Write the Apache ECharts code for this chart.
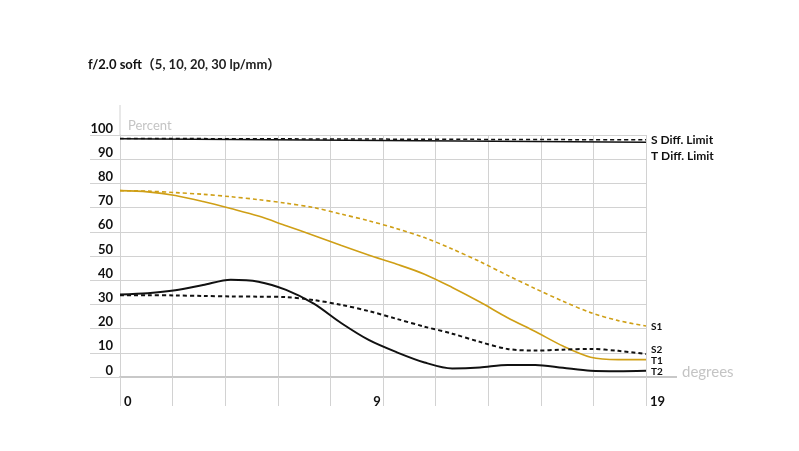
<!DOCTYPE html>
<html>
<head>
<meta charset="utf-8">
<script src="https://cdn.jsdelivr.net/npm/echarts@6/dist/echarts.min.js"></script>
<style>
  html, body { margin: 0; padding: 0; background: #fff; }
  #chart { width: 799px; height: 451px; }
</style>
</head>
<body>
<div id="chart"></div>
<script>
var degrees = [0, 1, 2, 3, 4, 5, 6, 7, 8, 9, 10, 11, 12, 13, 14, 15, 16, 17, 18, 19];
var s1 = [77, 76.8, 76.2, 75.5, 74.5, 73.3, 71.8, 70, 67.3, 64.5, 61.3, 57.6, 52.9, 47.7, 42, 36.5, 31.3, 26.6, 23.3, 21.1];
var t1 = [77, 76.5, 75, 72.5, 69.6, 66.5, 62.5, 58.5, 54.3, 50.3, 46.6, 42.5, 37, 31, 24.5, 18.8, 12.8, 8.2, 7.2, 7.2];
var s2 = [33.8, 33.8, 33.7, 33.5, 33.3, 33.2, 33, 31.8, 29.8, 27.2, 24, 20.8, 17.9, 14.5, 11.6, 10.9, 11.3, 11.6, 10.8, 9.5];
var t2 = [34.1, 34.6, 35.8, 38, 40.2, 39.4, 36, 30.3, 22.2, 15.2, 10.2, 6, 3.5, 3.9, 5, 5, 3.8, 2.6, 2.4, 2.6];

var limitDegrees = [0, 19];
var sDiffLimit = [98.6, 98];
var tDiffLimit = [98.5, 97];

var degreeLabels = [0, 9, 19];

var gold = '#cf9f16';
var gridColor = '#d2d2d2';

function pairs(xs, ys) {
    return xs.map(function (x, i) { return [x, ys[i]]; });
}

var dom = document.getElementById('chart');
var myChart = echarts.init(dom);

function curve(name, xs, ys, color, dashed, width, labelOffset, labelSize) {
    return {
        name: name,
        type: 'line',
        data: pairs(xs, ys),
        smooth: 0.3,
        symbol: 'none',
        lineStyle: { color: color, width: width, type: dashed ? [4, 3] : 'solid' },
        endLabel: {
            show: true,
            formatter: '{a}',
            color: '#111',
            fontFamily: 'Lato',
            fontWeight: 'bold',
            fontSize: labelSize,
            distance: 5,
            offset: [0, labelOffset]
        },
        z: 3
    };
}

var option = {
    animation: false,
    title: {
        left: 88,
        top: 58,
        padding: 0,
        text: '{b|f/2.0 soft}{r|（5, 10, 20, 30 lp/mm）}',
        textStyle: {
            rich: {
                b: { fontFamily: 'Lato', fontWeight: 'bold', fontSize: 13, color: '#111' },
                r: { fontFamily: 'Lato, "Noto Sans CJK SC"', fontSize: 13, color: '#222' }
            }
        }
    },
    grid: { left: 120, right: 153, top: 135, bottom: 74 },
    xAxis: {
        type: 'value',
        min: 0,
        max: 19,
        interval: 1.9,
        name: 'degrees',
        nameLocation: 'end',
        nameGap: 36,
        nameTextStyle: { color: '#c4c4c4', fontFamily: 'Lato', fontSize: 15, verticalAlign: 'bottom', lineHeight: 10 },
        axisLine: { show: true, lineStyle: { color: '#c8c8c8', width: 2 } },
        axisTick: { show: true, length: 29, lineStyle: { color: gridColor, width: 1 } },
        splitLine: { show: true, lineStyle: { color: gridColor, width: 1 } },
        axisLabel: {
            customValues: degreeLabels,
            align: 'left',
            padding: [0, 0, 0, 4],
            margin: 18,
            color: '#111',
            fontFamily: 'Lato',
            fontWeight: 'bold',
            fontSize: 13
        }
    },
    yAxis: {
        type: 'value',
        min: 0,
        max: 100,
        interval: 10,
        name: 'Percent',
        nameLocation: 'end',
        nameGap: 3,
        nameTextStyle: { color: '#c4c4c4', fontFamily: 'Lato', fontSize: 13, align: 'left', padding: [0, 0, 0, 8] },
        axisLine: { show: true, lineStyle: { color: gridColor, width: 1 } },
        axisTick: { show: true, length: 30, lineStyle: { color: gridColor, width: 1 } },
        splitLine: { show: true, lineStyle: { color: gridColor, width: 1 } },
        axisLabel: {
            margin: 7,
            verticalAlign: 'bottom',
            color: '#111',
            fontFamily: 'Lato',
            fontWeight: 'bold',
            fontSize: 13
        }
    },
    series: [
        curve('S Diff. Limit', limitDegrees, sDiffLimit, '#111', true, 1.5, 0, 12),
        curve('T Diff. Limit', limitDegrees, tDiffLimit, '#111', false, 1.5, 14, 12),
        curve('S1', degrees, s1, gold, true, 1.6, 1, 10),
        curve('T1', degrees, t1, gold, false, 1.6, 1, 10),
        curve('S2', degrees, s2, '#111', true, 2, -4, 10),
        curve('T2', degrees, t2, '#111', false, 2, 1, 10)
    ]
};

myChart.setOption(option);

// extensions of the axis lines past the plot area
var origin = myChart.convertToPixel({ gridIndex: 0 }, [0, 0]);
var top100 = myChart.convertToPixel({ gridIndex: 0 }, [0, 100]);
var end19 = myChart.convertToPixel({ gridIndex: 0 }, [19, 0]);
myChart.setOption({
    graphic: [
        {
            type: 'line',
            shape: { x1: origin[0], y1: top100[1] - 30, x2: origin[0], y2: top100[1] },
            style: { stroke: gridColor, lineWidth: 1 }
        },
        {
            type: 'line',
            shape: { x1: end19[0], y1: end19[1], x2: end19[0] + 31, y2: end19[1] },
            style: { stroke: '#c8c8c8', lineWidth: 2 }
        }
    ]
});
</script>
</body>
</html>
